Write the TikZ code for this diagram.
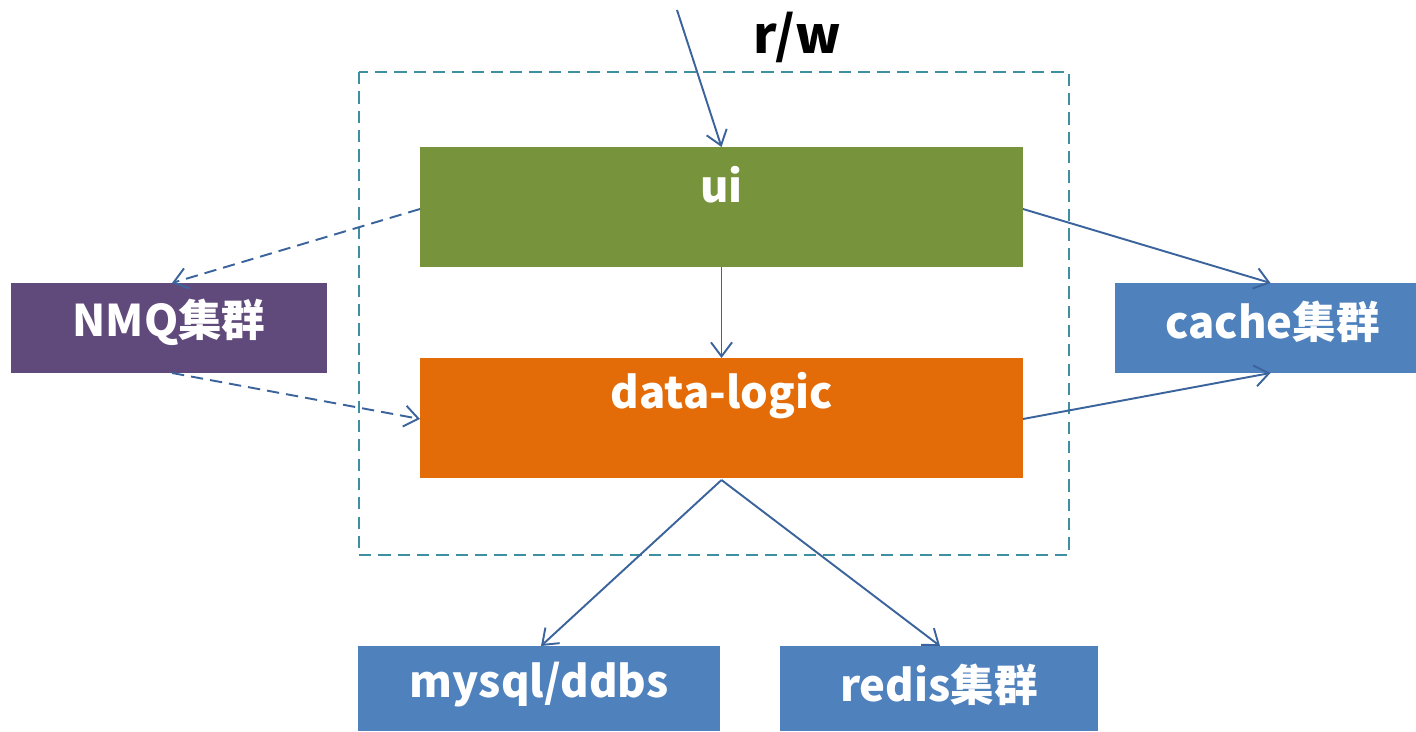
\documentclass[tikz,border=0pt]{standalone}
\usepackage{fontspec}
\setmainfont{Noto Sans CJK SC}
\usetikzlibrary{arrows.meta}
\definecolor{uigreen}{HTML}{77933C}
\definecolor{dlorange}{HTML}{E36C09}
\definecolor{nmqpurple}{HTML}{604A7B}
\definecolor{boxblue}{HTML}{4F81BD}
\definecolor{linkblue}{HTML}{3C649C}
\definecolor{frameteal}{HTML}{3E8FA0}
\tikzset{
  blk/.style={draw=none, inner sep=0pt, outer sep=0pt},
  lbl/.style={text=white, font=\fontsize{24.8}{29}\selectfont\bfseries},
  link/.style={draw=linkblue, line width=1.1pt, -{Straight Barb[length=8pt,width=12pt,line width=1.1pt]}},
  dlink/.style={link, dash pattern=on 7pt off 4pt},
  frame/.style={draw=frameteal, line width=1.1pt, dash pattern=on 7pt off 4pt}
}
\begin{document}
\begin{tikzpicture}[x=0.02cm, y=-0.02cm]
\useasboundingbox (0,0) rectangle (1416,732);
% frame
\draw[frame] (359,72) rectangle (1069,555);
% boxes
\node[blk, fill=uigreen, minimum width=603*0.02cm, minimum height=120*0.02cm,
  label={[lbl, yshift=22*0.02cm]center:ui}] (ui) at (721.5,207) {};
\node[blk, fill=dlorange, minimum width=603*0.02cm, minimum height=120*0.02cm,
  label={[lbl, yshift=22*0.02cm]center:data-logic}] (dl) at (721.5,418) {};
\node[blk, fill=nmqpurple, minimum width=316*0.02cm, minimum height=90*0.02cm,
  label={[lbl, yshift=6*0.02cm]center:NMQ集群}] (nmq) at (169,328) {};
\node[blk, fill=boxblue, minimum width=301*0.02cm, minimum height=90*0.02cm,
  label={[lbl, yshift=6*0.02cm, xshift=7*0.02cm]center:cache集群}] (cache) at (1265.5,328) {};
\node[blk, fill=boxblue, minimum width=362*0.02cm, minimum height=85*0.02cm,
  label={[lbl, yshift=4*0.02cm]center:mysql/ddbs}] (mysql) at (539,688.5) {};
\node[blk, fill=boxblue, minimum width=318*0.02cm, minimum height=85*0.02cm,
  label={[lbl, yshift=4*0.02cm]center:redis集群}] (redis) at (939,688.5) {};
% r/w
\node[font=\fontsize{29}{34}\selectfont\bfseries] (rw) at (797,37) {r/w};
\coordinate (top) at (677,10);
% connectors
\draw[link] (top) -- (ui.north);
\draw[link] (ui.south) -- (dl.north);
\draw[dlink] ([yshift=-2*0.02cm]ui.west) -- ([xshift=3*0.02cm]nmq.north);
\draw[dlink] ([xshift=3*0.02cm]nmq.south) -- ([yshift=-1*0.02cm]dl.west);
\draw[link] ([yshift=-2*0.02cm]ui.east) -- ([xshift=5*0.02cm]cache.north);
\draw[link] ([yshift=-1*0.02cm]dl.east) -- ([xshift=5*0.02cm]cache.south);
\draw[link] ([yshift=-2*0.02cm]dl.south) -- ([xshift=2*0.02cm]mysql.north);
\draw[link] ([yshift=-2*0.02cm]dl.south) -- ([xshift=1*0.02cm]redis.north);
\end{tikzpicture}
\end{document}
